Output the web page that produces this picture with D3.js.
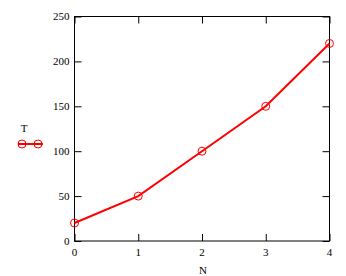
<!DOCTYPE html>
<html>
<head>
<meta charset="utf-8">
<script src="https://cdn.jsdelivr.net/npm/d3@7"></script>
<style>
  html, body { margin: 0; padding: 0; background: #fff; }
  svg { display: block; }
  text { font-family: "Liberation Serif", "Times New Roman", serif; font-size: 11px; fill: #000; }
</style>
</head>
<body>
<svg id="chart" width="346" height="276"></svg>
<script>
const nValues = [0, 1, 2, 3, 4]
const tValues = [20, 50, 100, 150, 220]
const xTicks = [0, 1, 2, 3, 4]
const yTicks = [0, 50, 100, 150, 200, 250]

const svg = d3.select('#chart')
const plotL = 74.5, plotR = 329.5, plotT = 16.5, plotB = 241

const x = d3.scaleLinear().domain([0, 4]).range([plotL, plotR])
const y = d3.scaleLinear().domain([0, 250]).range([plotB, plotT])

// frame
svg.append('rect')
  .attr('x', plotL).attr('y', plotT)
  .attr('width', plotR - plotL).attr('height', plotB - plotT)
  .attr('fill', 'none').attr('stroke', '#000').attr('stroke-width', 1)

// inward ticks on all four sides
const tickLen = 7
svg.append('g').attr('transform', `translate(${plotL},0)`)
  .call(d3.axisRight(y).tickValues(yTicks).tickSize(tickLen).tickFormat(''))
  .call(g => g.select('.domain').remove())
svg.append('g').attr('transform', `translate(${plotR},0)`)
  .call(d3.axisLeft(y).tickValues(yTicks).tickSize(tickLen).tickFormat(''))
  .call(g => g.select('.domain').remove())
svg.append('g').attr('transform', `translate(0,${plotB})`)
  .call(d3.axisTop(x).tickValues(xTicks).tickSize(tickLen).tickFormat(''))
  .call(g => g.select('.domain').remove())
svg.append('g').attr('transform', `translate(0,${plotT})`)
  .call(d3.axisBottom(x).tickValues(xTicks).tickSize(tickLen).tickFormat(''))
  .call(g => g.select('.domain').remove())
svg.selectAll('.tick line').attr('stroke', '#000')

// tick labels
svg.append('g').selectAll('text').data(yTicks).join('text')
  .attr('x', plotL - 5).attr('y', d => y(d)).attr('dy', '0.35em')
  .attr('text-anchor', 'end').text(d => d)
svg.append('g').selectAll('text').data(xTicks).join('text')
  .attr('x', d => x(d)).attr('y', plotB + 11).attr('dy', '0.35em')
  .attr('text-anchor', 'middle').text(d => d)

// axis title
svg.append('text').attr('x', (plotL + plotR) / 2 + 1).attr('y', 270).attr('dy', '0.35em')
  .attr('text-anchor', 'middle').text('N')

// series
const pts = nValues.map((n, i) => [n, tValues[i]])
svg.append('path').datum(pts)
  .attr('fill', 'none').attr('stroke', '#ff0000').attr('stroke-width', 2)
  .attr('d', d3.line().x(d => x(d[0])).y(d => y(d[1])))
svg.append('g').selectAll('circle').data(pts).join('circle')
  .attr('cx', d => x(d[0])).attr('cy', d => y(d[1])).attr('r', 4)
  .attr('fill', 'none').attr('stroke', '#ff0000').attr('stroke-width', 1)

// legend
svg.append('text').attr('x', 24).attr('y', 128).attr('dy', '0.35em')
  .attr('text-anchor', 'middle').text('T')
svg.append('line').attr('x1', 18).attr('x2', 43).attr('y1', 144).attr('y2', 144)
  .attr('stroke', '#ff0000').attr('stroke-width', 2)
svg.append('g').selectAll('circle').data([22, 38]).join('circle')
  .attr('cx', d => d).attr('cy', 144).attr('r', 4)
  .attr('fill', 'none').attr('stroke', '#ff0000').attr('stroke-width', 1)
</script>
</body>
</html>
